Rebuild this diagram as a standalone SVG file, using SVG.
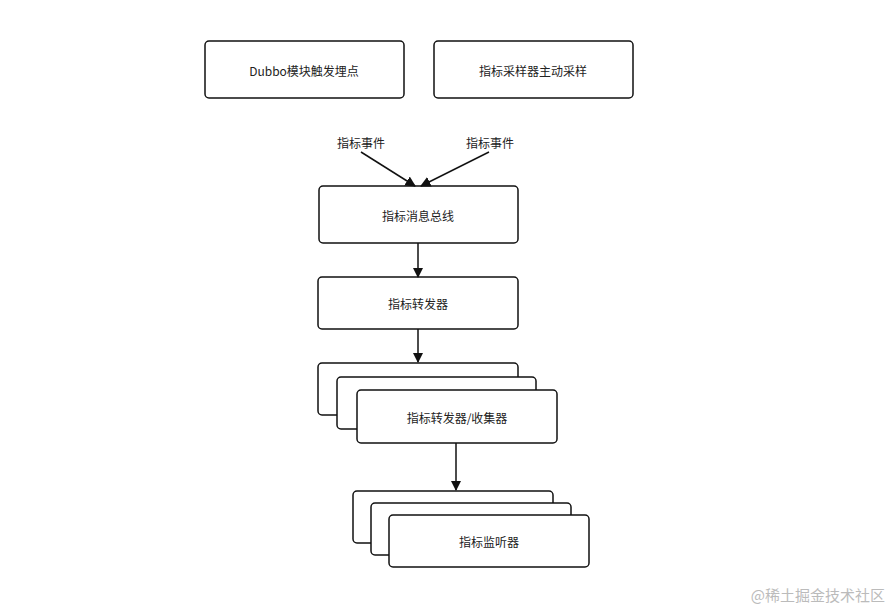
<svg xmlns="http://www.w3.org/2000/svg" width="890" height="610" viewBox="0 0 890 610">
<style>
.b{fill:#fff;stroke:#111;stroke-width:1.5}
.t{font-family:"Noto Sans CJK SC","Liberation Sans",sans-serif;font-size:12px;fill:#222;text-anchor:middle;dominant-baseline:central}
.c{stroke:#111;stroke-width:1.5;fill:none;marker-end:url(#a)}
</style>
<defs><marker id="a" viewBox="0 0 10 10" refX="9" refY="5" markerWidth="7" markerHeight="7" orient="auto"><path d="M0,0 L10,5 L0,10 z" fill="#111"/></marker></defs>
<rect width="890" height="610" fill="#fff"/>
<g id="n1"><rect class="b" x="205" y="41" width="199" height="57" rx="4"/><text class="t" x="304" y="70">Dubbo模块触发埋点</text></g>
<g id="n2"><rect class="b" x="434" y="41" width="199" height="57" rx="4"/><text class="t" x="533" y="70">指标采样器主动采样</text></g>
<g id="n3"><rect class="b" x="319" y="186" width="199" height="57" rx="4"/><text class="t" x="418" y="215">指标消息总线</text></g>
<g id="n4"><rect class="b" x="318" y="277" width="200" height="52" rx="4"/><text class="t" x="418" y="303">指标转发器</text></g>
<g id="n5"><rect class="b" x="318" y="363" width="200" height="52" rx="4"/><rect class="b" x="337" y="377" width="199" height="52" rx="4"/><rect class="b" x="357" y="390" width="200" height="53" rx="4"/><text class="t" x="457" y="417">指标转发器/收集器</text></g>
<g id="n6"><rect class="b" x="353" y="491" width="200" height="52" rx="4"/><rect class="b" x="371" y="503" width="200" height="52" rx="4"/><rect class="b" x="389" y="515" width="200" height="52" rx="4"/><text class="t" x="489" y="541">指标监听器</text></g>
<g id="connectors">
<line class="c" x1="361" y1="152" x2="415" y2="186"/>
<line class="c" x1="489" y1="152" x2="421" y2="186"/>
<line class="c" x1="418" y1="243" x2="418" y2="277"/>
<line class="c" x1="418" y1="329" x2="418" y2="362"/>
<line class="c" x1="456" y1="443" x2="456" y2="490"/>
<text class="t" x="361" y="142">指标事件</text>
<text class="t" x="490" y="142">指标事件</text>
</g>
<text x="885" y="594" font-family="Noto Sans CJK SC,sans-serif" font-size="15" fill="#bbb" text-anchor="end" dominant-baseline="central">@稀土掘金技术社区</text>
</svg>
